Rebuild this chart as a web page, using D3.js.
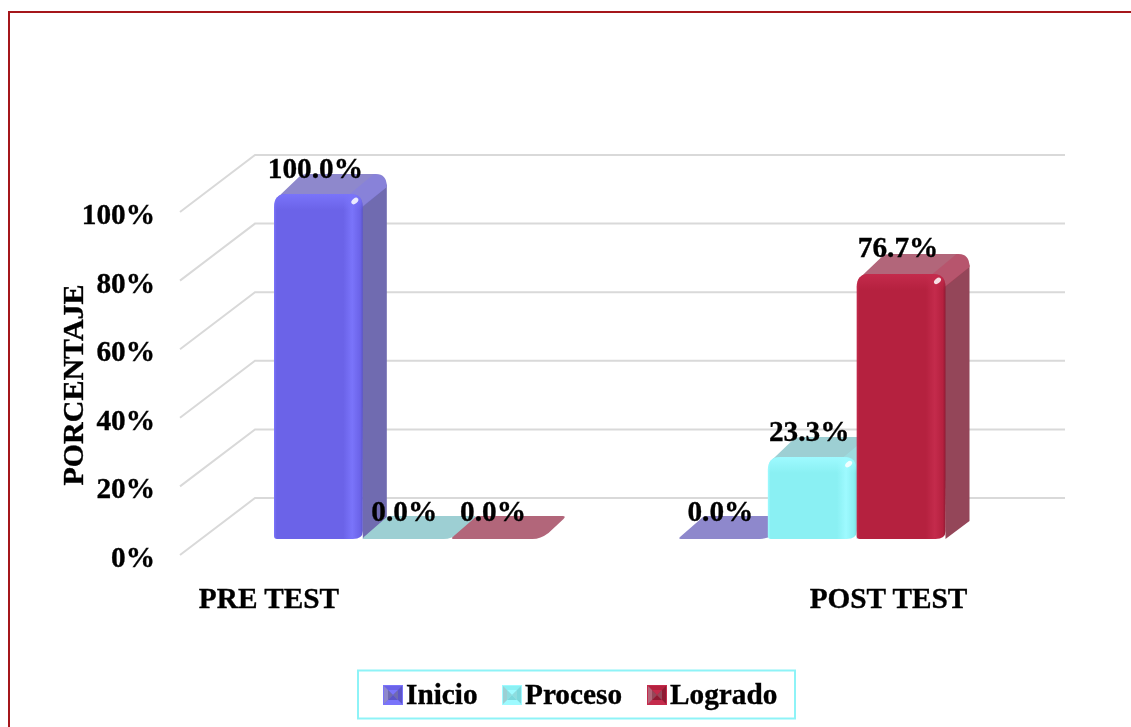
<!DOCTYPE html>
<html><head><meta charset="utf-8">
<script src="https://cdn.jsdelivr.net/npm/d3@7"></script>
<style>html,body{margin:0;padding:0;background:#fff;overflow:hidden}svg{display:block;filter:blur(0.35px)}text{font-family:"Liberation Serif","Times New Roman",serif;font-weight:bold;fill:#000;stroke:#000;stroke-width:.35px}</style>
</head><body><svg id="c" width="1131" height="727"></svg>
<script>
const categories = ["PRE TEST", "POST TEST"];
const seriesNames = ["Inicio", "Proceso", "Logrado"];
const inicio = [100.0, 0.0];
const proceso = [0.0, 23.3];
const logrado = [0.0, 76.7];
const seriesValues = [inicio, proceso, logrado];
const tickValues = [0, 20, 40, 60, 80, 100];
const axisTitle = "PORCENTAJE";
const palette = [
  {front:"#6b63e8",light:"#7a74fa",dark:"#5c55c8",side:"#706bb0",top:"#8e88cc",hi:"#a9a4ff"},
  {front:"#8af0f3",light:"#9efaff",dark:"#7cd8dc",side:"#8fdcdf",top:"#9dcfd3",hi:"#c8ffff"},
  {front:"#b5213f",light:"#c42b4c",dark:"#8f1a33",side:"#944659",top:"#b2667a",hi:"#e8587a"}
];
const fs = 29.3;

const svg = d3.select("#c");
const defs = svg.append("defs");
palette.forEach((p,i)=>{
  const g = defs.append("linearGradient").attr("id","fg"+i).attr("x1",0).attr("x2",1).attr("y1",0).attr("y2",0);
  [[0,p.light],[0.03,p.front],[0.78,p.front],[0.88,p.light],[0.97,p.front],[1,p.dark]].forEach(s=>g.append("stop").attr("offset",s[0]).attr("stop-color",s[1]));
  const t = defs.append("linearGradient").attr("id","tg"+i).attr("x1",0).attr("x2",0).attr("y1",0).attr("y2",1);
  t.append("stop").attr("offset",0).attr("stop-color",p.light);
  t.append("stop").attr("offset",1).attr("stop-color",p.light).attr("stop-opacity",0);
});

// frame
svg.append("rect").attr("x",9).attr("y",12).attr("width",1200).attr("height",800)
  .attr("fill","none").attr("stroke","#a5161b").attr("stroke-width",2);

const y = d3.scaleLinear().domain([0,100]).range([555,212]);
const wall = {dx:75, dy:-57, x0:180, x1:1065};
const barLift = -16, depth = {dx:24, dy:-20}, r = 13;
const xCat = d3.scalePoint().domain(categories).range([274,679]);
const xSer = d3.scaleBand().domain(seriesNames).range([0,266.5]);
const xLabel = d3.scalePoint().domain(categories).range([269,888.5]);

// grid
const grid = svg.append("g").attr("fill","none").attr("stroke","#d9d9d9").attr("stroke-width",2);
tickValues.forEach(t=>{
  grid.append("path").attr("d",`M${wall.x0},${y(t)}L${wall.x0+wall.dx},${y(t)+wall.dy}H${wall.x1}`);
});

// tick labels
svg.append("g").selectAll("text").data(tickValues).join("text")
  .attr("x",155).attr("y",d=>y(d)+12).attr("text-anchor","end").attr("font-size",fs).text(d=>d+"%");
svg.append("text").attr("transform","translate(83,385) rotate(-90)").attr("text-anchor","middle").attr("font-size",30).text(axisTitle);
// category labels
svg.append("g").selectAll("text").data(categories).join("text")
  .attr("x",d=>xLabel(d)).attr("y",608)
  .attr("text-anchor","middle").attr("font-size",fs).text(d=>d);

// bars
const bars = svg.append("g");
const labels = [];
categories.forEach((c,ci)=>{
  seriesNames.forEach((s,si)=>{
    const v = seriesValues[si][ci], p = palette[si];
    const x0 = xCat(c)+xSer(s), x1 = x0+xSer.bandwidth();
    const base = y(0)+barLift, top = y(v)+barLift-(v>0?2:0);
    const {dx,dy} = depth;
    labels.push({x:(x0+x1)/2-3,y:y(v)+barLift-18.5,t:v.toFixed(1)+"%"});
    if (v===0){
      const d2 = -23;
      bars.append("path").attr("fill",p.top).attr("d",
        `M${x0+2},${base}Q${x0-1},${base} ${x0+1},${base-2}L${x0+dx},${base+d2+1}Q${x0+dx+1},${base+d2} ${x0+dx+3},${base+d2}`+
        `H${x1+dx-2}Q${x1+dx+2},${base+d2} ${x1+dx-1},${base+d2+3}L${x1+8},${base-6}Q${x1},${base} ${x1-8},${base}Z`);
      return;
    }
    // side
    bars.append("path").attr("fill",p.side).attr("d",
      `M${x1-2},${top+r}L${x1+dx-8},${top+dy+3}L${x1+dx},${top+dy+r-2}V${base+dy+2}L${x1},${base}Z`);
    // top
    bars.append("path").attr("fill",p.top).attr("d",
      `M${x0+4},${top+3}L${x0+dx+2},${top+dy+2}Q${x0+dx+4},${top+dy} ${x0+dx+10},${top+dy}H${x1+dx-11}Q${x1+dx},${top+dy} ${x1+dx},${top+dy+r}L${x1-1},${top+r}Z`);
    // bevel on the top-back-right corner
    bars.append("path").attr("fill",p.light).attr("opacity",.28).attr("d",
      `M${x1+dx-13},${top+dy}Q${x1+dx},${top+dy} ${x1+dx},${top+dy+13}L${x1},${top+13}Q${x1},${top} ${x1-13},${top}Z`);
    // front
    const fp = `M${x0},${base-3}V${top+r}Q${x0},${top} ${x0+r},${top}H${x1-r}Q${x1},${top} ${x1},${top+r}V${base-8}Q${x1},${base} ${x1-10},${base}H${x0+3}Q${x0},${base} ${x0},${base-3}Z`;
    bars.append("path").attr("d",fp).attr("fill",`url(#fg${si})`);
    bars.append("path").attr("d",`M${x0},${top+16}V${top+r}Q${x0},${top} ${x0+r},${top}H${x1-r}Q${x1},${top} ${x1},${top+r}V${top+16}Z`).attr("fill",`url(#tg${si})`);
    // highlight
    bars.append("ellipse").attr("cx",x1-8).attr("cy",top+7).attr("rx",4).attr("ry",2.5)
      .attr("transform",`rotate(-40 ${x1-8} ${top+7})`).attr("fill","#fff").attr("opacity",.85);
  });
});
svg.append("g").selectAll("text").data(labels).join("text")
  .attr("x",d=>d.x).attr("y",d=>d.y).attr("text-anchor","middle").attr("font-size",fs).text(d=>d.t);

// legend
svg.append("rect").attr("x",358).attr("y",670.5).attr("width",437).attr("height",48)
  .attr("fill","#fff").attr("stroke","#8ef3f7").attr("stroke-width",2);
const legendSwatchX = d3.scaleOrdinal().domain(seriesNames).range([383,502,647]);
const sw = 20, sy = 685;
seriesNames.forEach((s,i)=>{
  const p = palette[i], g = svg.append("g").attr("transform",`translate(${legendSwatchX(s)},${sy})`);
  const k = 5, e = sw-k, d = 4;
  g.append("rect").attr("width",sw).attr("height",sw).attr("fill",p.front);
  [[`M0,0H${sw}L${e},${k}H${k}Z`,p.front],[`M${sw},0V${sw}L${e},${e}V${k}Z`,p.dark],
   [`M0,${sw}H${sw}L${e},${e}H${k}Z`,p.light],[`M0,0V${sw}L${k},${e}V${k}Z`,p.top]]
    .forEach(t=>g.append("path").attr("d",t[0]).attr("fill",t[1]));
  g.append("path").attr("d",`M${k},${k}H${e}L${sw/2},${sw/2}Z`).attr("fill",p.light);
  g.append("path").attr("d",`M${k},${e}H${e}L${sw/2},${sw/2}Z`).attr("fill",p.dark);
  g.append("path").attr("d",`M${k},${k}V${e}L${sw/2},${sw/2}Z`).attr("fill",p.side);
  g.append("path").attr("d",`M${e},${k}V${e}L${sw/2},${sw/2}Z`).attr("fill",p.side);
  g.append("rect").attr("x",.5).attr("y",.5).attr("width",sw-1).attr("height",sw-1).attr("fill","none").attr("stroke",p.light);
  svg.append("text").attr("x",legendSwatchX(s)+sw+3).attr("y",704).attr("font-size",fs).text(s);
});
</script></body></html>
